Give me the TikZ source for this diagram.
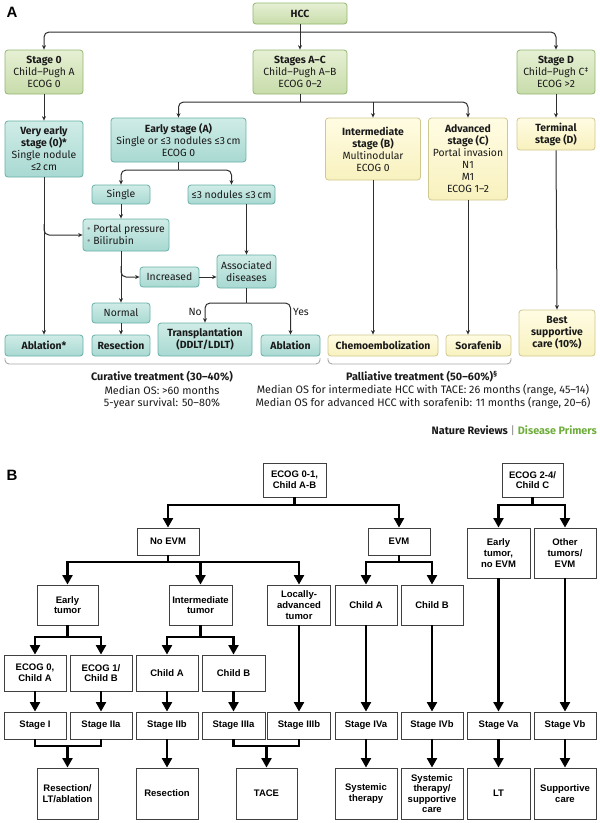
\documentclass[tikz,border=0pt]{standalone}
\usepackage{fontspec}
\usetikzlibrary{arrows.meta,positioning}
\newfontfamily\afont{Fira Sans}
\newfontfamily\bfont{Liberation Sans}
\definecolor{gtop}{HTML}{E6F0D4}\definecolor{gbot}{HTML}{C8DCAA}\definecolor{gdraw}{HTML}{93B772}
\definecolor{ttop}{HTML}{D0ECE7}\definecolor{tbot}{HTML}{A8D9D2}\definecolor{tdraw}{HTML}{67B0A7}
\definecolor{ytop}{HTML}{FFFCE3}\definecolor{ybot}{HTML}{F8F1BE}\definecolor{ydraw}{HTML}{CFC88F}
\definecolor{atext}{HTML}{1A1A1A}
\definecolor{aline}{HTML}{2E2E2E}
\definecolor{dpgreen}{HTML}{6FAE3C}
\definecolor{bracecol}{HTML}{A8A8A8}
\tikzset{
  abox/.style={rounded corners=3pt, line width=0.8pt, align=center, inner sep=1pt, text=atext,
    font=\afont\fontsize{10.4}{12}\selectfont},
  gbox/.style={abox, draw=gdraw, top color=gtop, bottom color=gbot},
  tbox/.style={abox, draw=tdraw, top color=ttop, bottom color=tbot},
  ybox/.style={abox, draw=ydraw, top color=ytop, bottom color=ybot},
  aarr/.style={draw=aline, line width=1pt, -{Stealth[length=4.5pt,width=4pt]}, rounded corners=5pt},
  aln/.style={draw=aline, line width=1pt},
  bbox/.style={draw=black!75, line width=0.9pt, align=center, inner sep=1pt,
    font=\bfont\bfseries\fontsize{9.5}{10.6}\selectfont},
  barr/.style={draw=black, line width=2.2pt, -{Triangle[width=10pt,length=9.5pt]}},
  bln/.style={draw=black, line width=2.2pt},
  capt/.style={font=\afont\fontsize{10.8}{12}\selectfont, text=atext, inner sep=0pt},
  brc/.style={draw=bracecol, line width=0.9pt, rounded corners=4pt},
}
\begin{document}
\begin{tikzpicture}[x=1pt,y=-1pt]
\useasboundingbox (0,0) rectangle (600,823);
\fill[white] (0,0) rectangle (600,823);
% ---------------- Panel A ----------------
\node[font=\bfont\bfseries\fontsize{15}{15}\selectfont, inner sep=0pt] (labA) at (12,12) {A};
\node[gbox, minimum width=94pt, minimum height=21pt] (hcc) at (300,13.5) {\textbf{HCC}};
\node[gbox, minimum width=78pt, minimum height=44pt] (s0) at (44,72) {\textbf{Stage 0}\\Child–Pugh A\\ECOG 0};
\node[gbox, minimum width=94pt, minimum height=44pt] (sac) at (300,72) {\textbf{Stages A–C}\\Child–Pugh A–B\\ECOG 0–2};
\node[gbox, minimum width=78pt, minimum height=44pt] (sd) at (556,72) {\textbf{Stage D}\\Child–Pugh C\textsuperscript{‡}\\ECOG >2};

\node[tbox, minimum width=78pt, minimum height=56pt] (ve) at (44,149) {\textbf{Very early}\\\textbf{stage (0)*}\\Single nodule\\≤2\,cm};
\node[tbox, minimum width=135pt, minimum height=44pt] (ea) at (178.5,140) {\textbf{Early stage (A)}\\Single or ≤3 nodules ≤3\,cm\\ECOG 0};
\node[ybox, minimum width=95pt, minimum height=62pt] (ib) at (373,149) {\textbf{Intermediate}\\\textbf{stage (B)}\\Multinodular\\ECOG 0};
\node[ybox, minimum width=79pt, minimum height=82pt] (ac) at (468,159) {\textbf{Advanced}\\\textbf{stage (C)}\\Portal invasion\\N1\\M1\\ECOG 1–2};
\node[ybox, minimum width=78pt, minimum height=32pt] (td) at (556,134) {\textbf{Terminal}\\\textbf{stage (D)}};

\node[tbox, minimum width=58pt, minimum height=19pt] (single) at (121,194.5) {Single};
\node[tbox, minimum width=87pt, minimum height=19pt] (n3) at (231.5,194.5) {≤3 nodules ≤3\,cm};
\node[tbox, minimum width=86pt, minimum height=32pt, align=left] (pp) at (126,235) {{\color{gray}\textbullet} Portal pressure\\{\color{gray}\textbullet} Bilirubin};
\node[tbox, minimum width=59pt, minimum height=20pt] (inc) at (169.5,277) {Increased};
\node[tbox, minimum width=59pt, minimum height=33pt] (ad) at (246.5,271.5) {Associated\\diseases};
\node[tbox, minimum width=58pt, minimum height=20pt] (norm) at (121,313) {Normal};

\node[tbox, minimum width=78pt, minimum height=21pt] (abl1) at (44,345.5) {\textbf{Ablation*}};
\node[tbox, minimum width=58pt, minimum height=21pt] (res) at (121,345.5) {\textbf{Resection}};
\node[tbox, minimum width=94pt, minimum height=33pt] (trans) at (205,339.5) {\textbf{Transplantation}\\\textbf{(DDLT/LDLT)}};
\node[tbox, minimum width=59pt, minimum height=21pt] (abl2) at (290.5,345.5) {\textbf{Ablation}};
\node[ybox, minimum width=110pt, minimum height=21pt] (chemo) at (383,345.5) {\textbf{Chemoembolization}};
\node[ybox, minimum width=65pt, minimum height=21pt] (sora) at (478.5,345.5) {\textbf{Sorafenib}};
\node[ybox, minimum width=76pt, minimum height=46pt] (bsc) at (557,333) {\textbf{Best}\\\textbf{supportive}\\\textbf{care (10\%)}};

% connectors A
\coordinate (j0) at (300,32);
\draw[aln] (hcc.south) -- (j0);
\draw[aarr] (j0) -| (s0.north);
\draw[aarr] (j0) -| (sd.north);
\draw[aarr] (j0) -- (sac.north);
\coordinate (j1) at (300,102);
\draw[aln] (sac.south) -- (j1);
\draw[aarr] (j1) -| (ea.north);
\draw[aarr] (j1) -| (ac.north);
\draw[aarr] (j1 -| ib.north) -- (ib.north);
\draw[aarr] (s0.south) -- (ve.north);
\draw[aarr] (ve.south) -- (abl1.north);
\draw[aarr] (44,224) |- (pp.west);
\coordinate (j2) at (178.5,170);
\draw[aln] (ea.south) -- (j2);
\draw[aarr] (j2) -| (single.north);
\draw[aarr] (j2) -| (n3.north);
\draw[aarr] (single.south) -- (single.south |- pp.north);
\draw[aarr] (single.south |- pp.south) -- (norm.north);
\draw[aarr] (121,266) |- (inc.west);
\draw[aarr] (inc.east) -- (inc.east -| ad.west);
\draw[aarr] (ad.north |- n3.south) -- (ad.north);
\coordinate (j3) at (246.5,303);
\draw[aln] (ad.south) -- (j3);
\draw[aarr] (j3) -| (trans.north);
\draw[aarr] (j3) -| (abl2.north);
\node[capt, font=\afont\fontsize{10.4}{12}\selectfont, anchor=east] (no) at (202,312) {No};
\node[capt, font=\afont\fontsize{10.4}{12}\selectfont, anchor=west] (yes) at (293,312) {Yes};
\draw[aarr] (norm.south) -- (res.north);
\draw[aarr] (ib.south) -- (ib.south |- chemo.north);
\draw[aarr] (ac.south) -- (ac.south |- sora.north);
\draw[aarr] (sd.south) -- (td.north);
\draw[aarr] (td.south) -- (bsc.north);

% braces
\draw[brc] (5,358) -- (5,364) -- (320,364) -- (320,358);
\draw[brc] (328,358) -- (328,364) -- (511,364) -- (511,358);
\node[capt] (cur1) at (162,376.5) {\textbf{Curative treatment (30–40\%)}};
\node[capt] (cur2) at (162,390) {Median OS: >60 months};
\node[capt] (cur3) at (162,403) {5-year survival: 50–80\%};
\node[capt] (pal1) at (422,376.5) {\textbf{Palliative treatment (50–60\%)\textsuperscript{§}}};
\node[capt] (pal2) at (423,390) {Median OS for intermediate HCC with TACE: 26 months (range, 45–14)};
\node[capt] (pal3) at (423,403) {Median OS for advanced HCC with sorafenib: 11 months (range, 20–6)};
\node[capt, anchor=east] (nr) at (597,431) {\textbf{Nature Reviews} {\color{gray}|} {\color{dpgreen}\textbf{Disease Primers}}};

% ---------------- Panel B ----------------
\node[font=\bfont\bfseries\fontsize{15}{15}\selectfont, inner sep=0pt] (labB) at (12,475) {B};
\node[bbox, minimum width=63pt, minimum height=34pt] (e01) at (294.5,480) {ECOG 0-1,\\Child A-B};
\node[bbox, minimum width=61pt, minimum height=34pt] (e24) at (532.5,480) {ECOG 2-4/\\Child C};
\node[bbox, minimum width=62pt, minimum height=27pt] (noevm) at (168,541.5) {No EVM};
\node[bbox, minimum width=62pt, minimum height=27pt] (evm) at (399,541.5) {EVM};
\node[bbox, minimum width=63pt, minimum height=50pt] (etn) at (498.5,553) {Early\\tumor,\\no EVM};
\node[bbox, minimum width=62pt, minimum height=50pt] (oth) at (565,553) {Other\\tumors/\\EVM};
\node[bbox, minimum width=61pt, minimum height=40pt] (et) at (67.5,605) {Early\\tumor};
\node[bbox, minimum width=63pt, minimum height=40pt] (it) at (200.5,605) {Intermediate\\tumor};
\node[bbox, minimum width=63pt, minimum height=40pt] (lat) at (299,605) {Locally-\\advanced\\tumor};
\node[bbox, minimum width=62pt, minimum height=40pt] (ca) at (366,605) {Child A};
\node[bbox, minimum width=62pt, minimum height=40pt] (cb) at (432,605) {Child B};

\node[bbox, minimum width=62pt, minimum height=36pt] (e0) at (35,673) {ECOG 0,\\Child A};
\node[bbox, minimum width=62pt, minimum height=36pt] (e1) at (101,673) {ECOG 1/\\Child B};
\node[bbox, minimum width=62pt, minimum height=36pt] (ca2) at (167,673) {Child A};
\node[bbox, minimum width=63pt, minimum height=36pt] (cb2) at (233.5,673) {Child B};

\node[bbox, minimum width=62pt, minimum height=27pt] (s1) at (35,725.5) {Stage I};
\node[bbox, minimum width=62pt, minimum height=27pt] (s2a) at (101,725.5) {Stage IIa};
\node[bbox, minimum width=62pt, minimum height=27pt] (s2b) at (167,725.5) {Stage IIb};
\node[bbox, minimum width=63pt, minimum height=27pt] (s3a) at (233.5,725.5) {Stage IIIa};
\node[bbox, minimum width=63pt, minimum height=27pt] (s3b) at (299,725.5) {Stage IIIb};
\node[bbox, minimum width=62pt, minimum height=27pt] (s4a) at (366,725.5) {Stage IVa};
\node[bbox, minimum width=62pt, minimum height=27pt] (s4b) at (432,725.5) {Stage IVb};
\node[bbox, minimum width=63pt, minimum height=27pt] (s5a) at (498.5,725.5) {Stage Va};
\node[bbox, minimum width=62pt, minimum height=27pt] (s5b) at (565,725.5) {Stage Vb};

\node[bbox, minimum width=61pt, minimum height=51pt] (t1) at (67.5,793.5) {Resection/\\LT/ablation};
\node[bbox, minimum width=62pt, minimum height=51pt] (t2) at (167,793.5) {Resection};
\node[bbox, minimum width=61pt, minimum height=51pt] (t3) at (266.5,793.5) {TACE};
\node[bbox, minimum width=62pt, minimum height=51pt] (t4) at (366,793.5) {Systemic\\therapy};
\node[bbox, minimum width=62pt, minimum height=51pt] (t5) at (432,793.5) {Systemic\\therapy/\\supportive\\care};
\node[bbox, minimum width=63pt, minimum height=51pt] (t6) at (498.5,793.5) {LT};
\node[bbox, minimum width=62pt, minimum height=51pt] (t7) at (565,793.5) {Supportive\\care};

% connectors B
\coordinate (k0) at (294.5,505);
\draw[bln] (e01.south) -- (k0);
\draw[barr] (k0) -| (noevm.north);
\draw[barr] (k0) -| (evm.north);
\coordinate (k1) at (532.5,505);
\draw[bln] (e24.south) -- (k1);
\draw[barr] (k1) -| (etn.north);
\draw[barr] (k1) -| (oth.north);
\coordinate (k2) at (168,562);
\draw[bln] (noevm.south) -- (k2);
\draw[barr] (k2) -| (et.north);
\draw[barr] (k2) -| (it.north);
\draw[barr] (k2) -| (lat.north);
\coordinate (k3) at (399,562);
\draw[bln] (evm.south) -- (k3);
\draw[barr] (k3) -| (ca.north);
\draw[barr] (k3) -| (cb.north);
\coordinate (k4) at (67.5,637);
\draw[bln] (et.south) -- (k4);
\draw[barr] (k4) -| (e0.north);
\draw[barr] (k4) -| (e1.north);
\coordinate (k5) at (200.5,637);
\draw[bln] (it.south) -- (k5);
\draw[barr] (k5) -| (ca2.north);
\draw[barr] (k5) -| (cb2.north);
\draw[barr] (lat.south) -- (s3b.north);
\draw[barr] (ca.south) -- (s4a.north);
\draw[barr] (cb.south) -- (s4b.north);
\draw[barr] (etn.south) -- (s5a.north);
\draw[barr] (oth.south) -- (s5b.north);
\draw[barr] (e0.south) -- (s1.north);
\draw[barr] (e1.south) -- (s2a.north);
\draw[barr] (ca2.south) -- (s2b.north);
\draw[barr] (cb2.south) -- (s3a.north);
\coordinate (m1) at (67.5,746);
\draw[bln] (s1.south) |- (m1) -| (s2a.south);
\draw[barr] (m1) -- (t1.north);
\draw[barr] (s2b.south) -- (t2.north);
\coordinate (m2) at (266.5,746);
\draw[bln] (s3a.south) |- (m2) -| (s3b.south);
\draw[barr] (m2) -- (t3.north);
\draw[barr] (s4a.south) -- (t4.north);
\draw[barr] (s4b.south) -- (t5.north);
\draw[barr] (s5a.south) -- (t6.north);
\draw[barr] (s5b.south) -- (t7.north);
\end{tikzpicture}
\end{document}
